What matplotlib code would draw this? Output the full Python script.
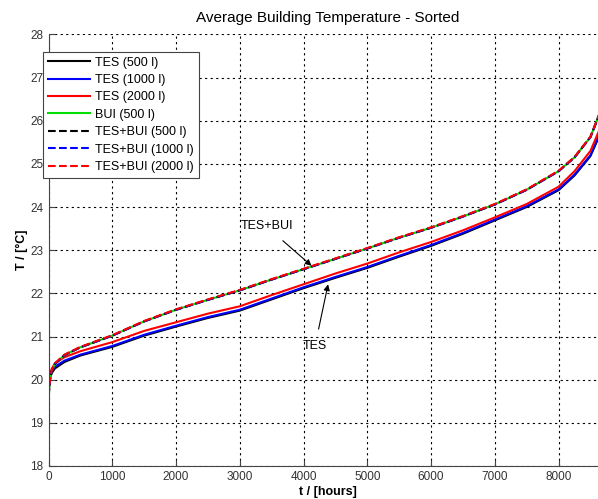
import matplotlib
matplotlib.use("Agg")
import matplotlib.pyplot as plt

plt.rcParams['font.family'] = ['Liberation Sans', 'DejaVu Sans']

# hours (sorted duration curve)
hours = [0, 25, 50, 100, 250, 500, 1000, 1500, 2000, 2500, 3000, 3500, 4000,
         4500, 5000, 5500, 6000, 6500, 7000, 7500, 8000, 8250, 8500, 8760]

tes_500 = [19.80, 20.05, 20.15, 20.26, 20.41, 20.56, 20.76, 21.02, 21.23, 21.43,
           21.60, 21.86, 22.12, 22.36, 22.59, 22.85, 23.10, 23.38, 23.69, 24.00,
           24.39, 24.73, 25.18, 26.05]
tes_1000 = [19.90, 20.10, 20.20, 20.30, 20.44, 20.58, 20.78, 21.04, 21.25, 21.45,
            21.62, 21.88, 22.14, 22.38, 22.61, 22.87, 23.12, 23.40, 23.71, 24.02,
            24.41, 24.75, 25.20, 26.10]
tes_2000 = [19.95, 20.15, 20.25, 20.38, 20.52, 20.66, 20.87, 21.13, 21.33, 21.53,
            21.70, 21.96, 22.21, 22.46, 22.69, 22.95, 23.19, 23.46, 23.76, 24.07,
            24.47, 24.83, 25.30, 26.20]
bui_500 = [19.60, 20.00, 20.20, 20.36, 20.57, 20.75, 21.02, 21.35, 21.62, 21.85,
           22.07, 22.32, 22.56, 22.80, 23.04, 23.29, 23.52, 23.78, 24.06, 24.40,
           24.83, 25.15, 25.62, 26.60]
tesbui_500 = [19.60, 20.00, 20.20, 20.36, 20.57, 20.75, 21.02, 21.35, 21.62, 21.85,
              22.07, 22.32, 22.56, 22.80, 23.04, 23.29, 23.52, 23.78, 24.06, 24.40,
              24.83, 25.15, 25.62, 26.60]
tesbui_1000 = [19.62, 20.01, 20.21, 20.37, 20.57, 20.75, 21.02, 21.35, 21.62, 21.85,
               22.07, 22.32, 22.56, 22.80, 23.04, 23.29, 23.52, 23.78, 24.06, 24.40,
               24.83, 25.15, 25.62, 26.60]
tesbui_2000 = [19.63, 20.02, 20.22, 20.38, 20.58, 20.76, 21.03, 21.36, 21.63, 21.86,
               22.08, 22.33, 22.57, 22.81, 23.05, 23.30, 23.53, 23.79, 24.07, 24.41,
               24.84, 25.16, 25.63, 26.61]

series = [
    ("TES (500 l)", tes_500, "black", "-"),
    ("TES (1000 l)", tes_1000, "#0000ff", "-"),
    ("TES (2000 l)", tes_2000, "#ff0000", "-"),
    ("BUI (500 l)", bui_500, "#00dd00", "-"),
    ("TES+BUI (500 l)", tesbui_500, "black", "--"),
    ("TES+BUI (1000 l)", tesbui_1000, "#0000ff", "--"),
    ("TES+BUI (2000 l)", tesbui_2000, "#ff0000", "--"),
]

fig = plt.figure(figsize=(5.98, 4.99), dpi=100)
# axes run past the right edge, as the reference image is cropped there
ax = fig.add_axes([48.5 / 598, 1 - 466 / 499, (607 - 48.5) / 598, (466 - 34.4) / 499])

for label, vals, col, ls in series:
    ax.plot(hours, vals, color=col, linestyle=ls, linewidth=1.5, label=label)

ax.set_xlim(0, 8760)
ax.set_ylim(18, 28)
ax.set_xticks(range(0, 9000, 1000))
ax.set_yticks(range(18, 29))

ax.grid(True, color="black", linestyle=(0, (2, 3)), linewidth=0.8)
ax.spines["top"].set_visible(False)
ax.spines["right"].set_visible(False)
ax.spines["left"].set_color("#444444")
ax.spines["bottom"].set_color("#444444")
ax.tick_params(direction="in", length=4, labelsize=8.5, labelcolor="#333333",
               colors="#444444")

ax.set_title("Average Building Temperature - Sorted", fontsize=11, pad=9)
ax.set_xlabel("t / [hours]", fontsize=9, fontweight="bold", labelpad=2)
ax.set_ylabel("T / [\u00b0C]", fontsize=9, fontweight="bold", labelpad=2)

ax.annotate("TES+BUI", xy=(4125, 22.64), xytext=(3420, 23.55),
            fontsize=9, ha="center", va="center",
            arrowprops=dict(arrowstyle="-|>", color="black", lw=0.8,
                            shrinkA=6, shrinkB=0))
ax.annotate("TES", xy=(4385, 22.21), xytext=(4180, 20.78),
            fontsize=9, ha="center", va="center",
            arrowprops=dict(arrowstyle="-|>", color="black", lw=0.8,
                            shrinkA=6, shrinkB=0))

leg = ax.legend(loc="upper left", bbox_to_anchor=(42.7 / 598, 1 - 51.7 / 499),
                bbox_transform=fig.transFigure, borderaxespad=0,
                fontsize=9, labelspacing=0.43, handlelength=3.4,
                handletextpad=0.4, borderpad=0.4, fancybox=False,
                framealpha=1, edgecolor="#444444")
leg.get_frame().set_linewidth(0.8)

plt.savefig("out.png", dpi=100)
plt.close()
